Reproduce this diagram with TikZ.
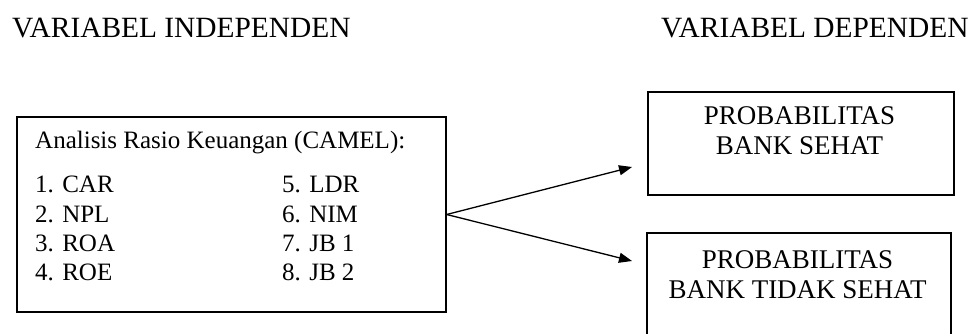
\documentclass[tikz,border=0pt]{standalone}
\usepackage{fontspec}
\setmainfont{Liberation Serif}
\usetikzlibrary{arrows.meta}
\tikzset{
  frame/.style={draw=black, line width=1.3pt, inner sep=0pt, rectangle},
  heading/.style={font=\fontsize{29.4}{31}\selectfont, inner sep=0pt, anchor=base west},
  itemtext/.style={font=\fontsize{25}{29}\selectfont, inner sep=0pt, anchor=base west},
  outtext/.style={font=\fontsize{27}{30}\selectfont, inner sep=0pt, align=center, anchor=base},
  link/.style={line width=1.3pt, -{Triangle[length=13pt,width=10pt]}}
}
\begin{document}
\begin{tikzpicture}[x=1pt, y=-1pt]
  \useasboundingbox (0,0) rectangle (972,334);

  % column headings
  \node[heading] (hin) at (12,38) {VARIABEL INDEPENDEN};
  \node[heading] (hdep) at (661,38) {VARIABEL DEPENDEN};

  % independent variables box
  \node[frame, minimum width=429pt, minimum height=195pt] (ind) at (231.5,214.5) {};
  \node[itemtext] (title) at (35,149) {Analisis Rasio Keuangan (CAMEL):};
  \node[itemtext] (i1) at (35,193) {1. CAR};
  \node[itemtext] (i2) at (35,222) {2. NPL};
  \node[itemtext] (i3) at (35,251) {3. ROA};
  \node[itemtext] (i4) at (35,280) {4. ROE};
  \node[itemtext] (i5) at (282,193) {5. LDR};
  \node[itemtext] (i6) at (282,222) {6. NIM};
  \node[itemtext] (i7) at (282,251) {7. JB 1};
  \node[itemtext] (i8) at (282,280) {8. JB 2};

  % dependent variable boxes (base anchor sits on the last line)
  \node[frame, minimum width=306pt, minimum height=103pt] (sehat) at (801,143.5) {};
  \node[outtext] (tsehat) at (799.5,155) {PROBABILITAS\\BANK SEHAT};
  \node[frame, minimum width=304pt, minimum height=103pt] (tidak) at (799,284.5) {};
  \node[outtext] (ttidak) at (797.5,298) {PROBABILITAS\\BANK TIDAK SEHAT};

  % connectors
  \coordinate (src) at (ind.east);
  \coordinate (tipA) at (632,167);
  \coordinate (tipB) at (632,261);
  \draw[link] (src) -- (tipA);
  \draw[link] (src) -- (tipB);
\end{tikzpicture}
\end{document}
